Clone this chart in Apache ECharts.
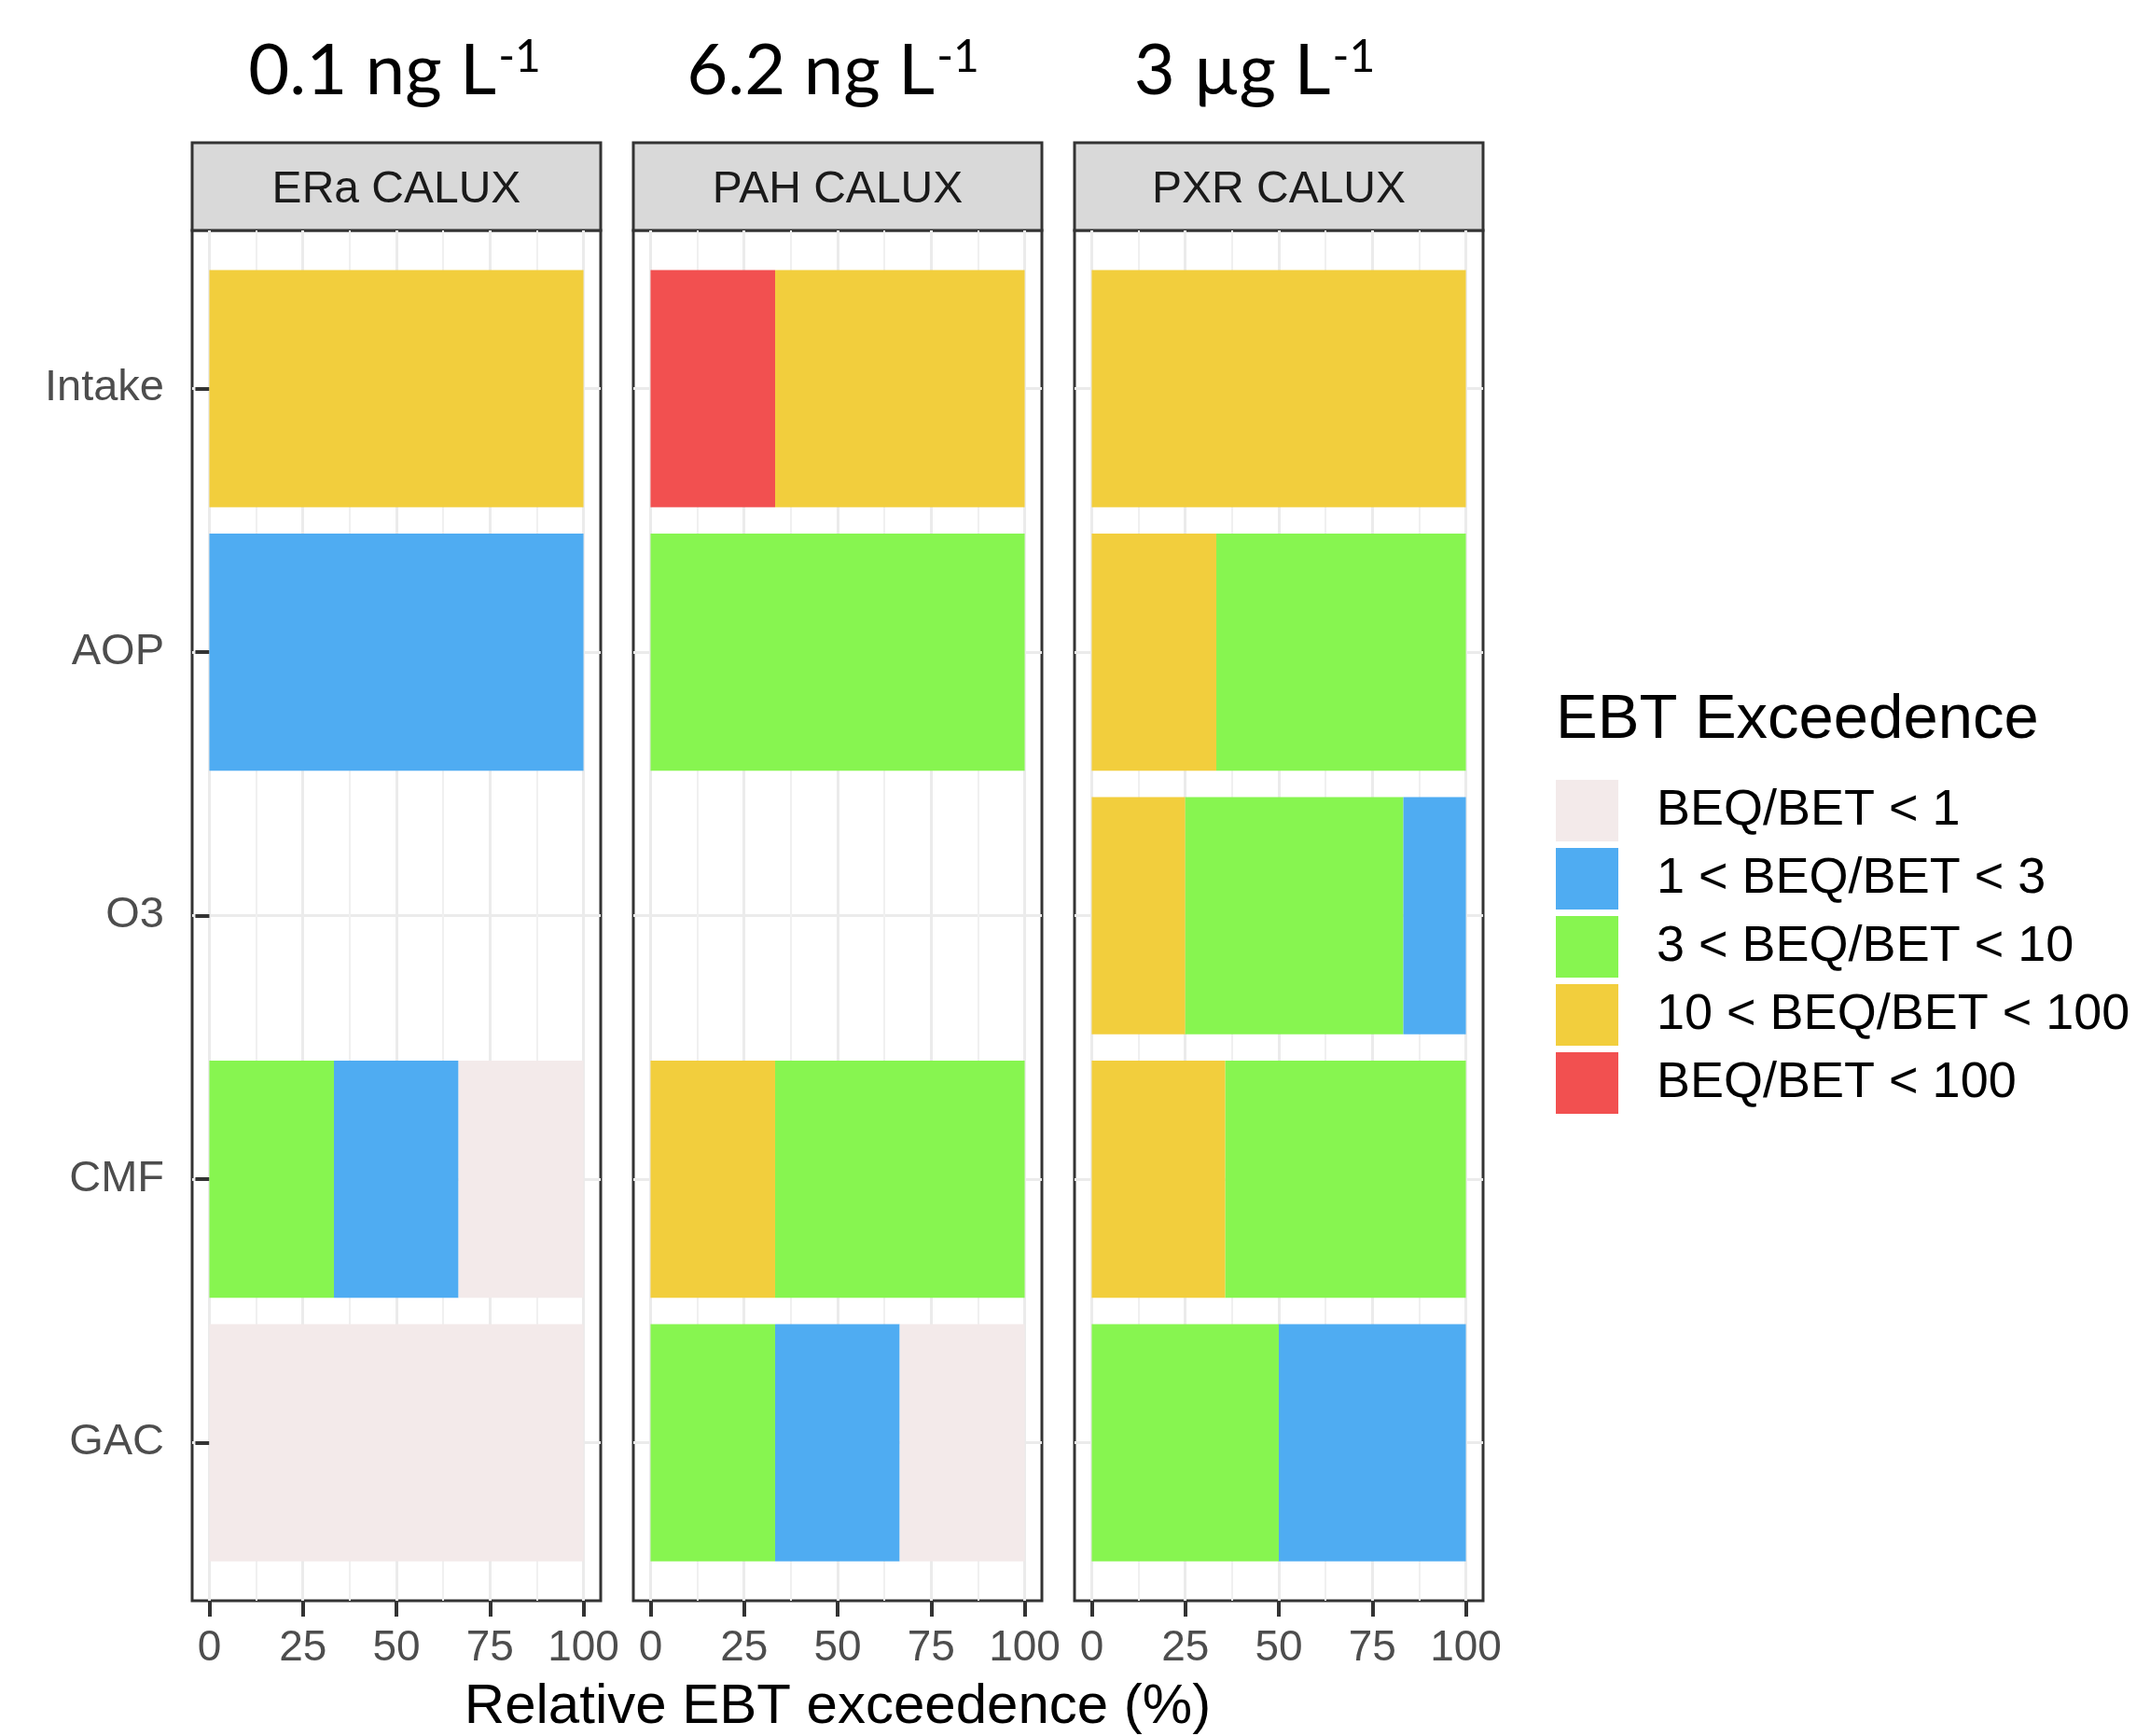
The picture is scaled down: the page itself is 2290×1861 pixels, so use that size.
<!DOCTYPE html>
<html>
<head>
<meta charset="utf-8">
<script src="https://cdn.jsdelivr.net/npm/echarts@6/dist/echarts.min.js"></script>
<style>html,body{margin:0;padding:0;background:#fff;}#chart{width:2290px;height:1861px;}</style>
</head>
<body>
<div id="chart"></div>
<script>
// ---------- data ----------
const categories = ['Intake', 'AOP', 'O3', 'CMF', 'GAC'];
const assays = ['ERa CALUX', 'PAH CALUX', 'PXR CALUX'];
const concentrations = ['0.1 ng L', '6.2 ng L', '3 \u00B5g L'];
const concentrationSup = '-1';
const xTicks = [0, 25, 50, 75, 100];
const xMinorTicks = [12.5, 37.5, 62.5, 87.5];
const yTicks = [1, 2, 3, 4, 5];
const xTitle = 'Relative EBT exceedence (%)';
const legendTitle = 'EBT Exceedence';
// stacking order left -> right
const levels = ['BEQ/BET < 100', '10 < BEQ/BET < 100', '3 < BEQ/BET < 10', '1 < BEQ/BET < 3', 'BEQ/BET < 1'];
const legendOrder = ['BEQ/BET < 1', '1 < BEQ/BET < 3', '3 < BEQ/BET < 10', '10 < BEQ/BET < 100', 'BEQ/BET < 100'];
// shares (%) per assay (rows: ERa, PAH, PXR), per category (Intake, AOP, O3, CMF, GAC)
const shareRed    = [[0, 0, 0, 0, 0], [33.3, 0, 0, 0, 0], [0, 0, 0, 0, 0]];
const shareYellow = [[100, 0, 0, 0, 0], [66.7, 0, 0, 33.3, 0], [100, 33.3, 25, 35.7, 0]];
const shareGreen  = [[0, 0, 0, 33.3, 0], [0, 100, 0, 66.7, 33.3], [0, 66.7, 58.3, 64.3, 50]];
const shareBlue   = [[0, 100, 0, 33.3, 0], [0, 0, 0, 0, 33.3], [0, 0, 16.7, 0, 50]];
const sharePale   = [[0, 0, 0, 33.4, 100], [0, 0, 0, 0, 33.4], [0, 0, 0, 0, 0]];

// ---------- styles ----------
const levelShares = [shareRed, shareYellow, shareGreen, shareBlue, sharePale];
const levelColors = ['#F25050', '#F2CE3D', '#87F550', '#4FACF2', '#F3EAEA'];
const FONT = '"Liberation Sans", Arial, sans-serif';
const panelLeft = [206, 679, 1152];
const panelWidth = 438;
const panelTop = 247, panelHeight = 1469;
const stripTop = 153, stripHeight = 94;
const titleX = [423, 893, 1345];

const grids = [], xAxes = [], yAxes = [], series = [], graphics = [];

for (let p = 0; p < 3; p++) {
  grids.push({ left: panelLeft[p], top: panelTop, width: panelWidth, height: panelHeight,
    show: true, backgroundColor: '#fff', borderColor: '#333333', borderWidth: 3, z: 0 });
}
for (let p = 0; p < 3; p++) {
  grids.push({ left: panelLeft[p], top: stripTop, width: panelWidth, height: stripHeight,
    show: true, backgroundColor: '#D9D9D9', borderColor: '#333333', borderWidth: 3 });
}

for (let p = 0; p < 3; p++) {
  xAxes.push({
    type: 'value', gridIndex: p, min: -4.6, max: 104.6, position: 'bottom',
    axisLine: { show: false },
    axisTick: { show: true, customValues: xTicks, length: 17, lineStyle: { color: '#333333', width: 4 } },
    axisLabel: { show: true, customValues: xTicks, margin: 28, fontSize: 46, color: '#4D4D4D', fontFamily: FONT },
    splitLine: { show: true, lineStyle: { color: '#EBEBEB', width: 3 } }
  });
  xAxes.push({
    type: 'value', gridIndex: p, min: -4.6, max: 104.6, position: 'top',
    axisLine: { show: false },
    axisTick: { show: false, customValues: xMinorTicks },
    axisLabel: { show: false },
    splitLine: { show: true, lineStyle: { color: '#F0F0F0', width: 2 } }
  });
  yAxes.push({
    type: 'value', gridIndex: p, min: 0.4, max: 5.6, inverse: true,
    axisLine: { show: false },
    axisTick: { show: p === 0, customValues: yTicks, length: 15, lineStyle: { color: '#333333', width: 4 } },
    axisLabel: { show: p === 0, customValues: yTicks, margin: 30, fontSize: 47, color: '#4D4D4D', fontFamily: FONT,
      formatter: v => categories[Math.round(v) - 1] },
    splitLine: { show: true, lineStyle: { color: '#EBEBEB', width: 3 } }
  });
}
for (let p = 0; p < 3; p++) {
  xAxes.push({ type: 'value', gridIndex: 3 + p, show: false });
  yAxes.push({ type: 'value', gridIndex: 3 + p, show: false });
}

function renderBar(params, api) {
  const c = api.value(2);
  const s = api.coord([api.value(0), c]);
  const e = api.coord([api.value(1), c]);
  const h = api.size([0, 0.9])[1];
  return { type: 'rect', shape: { x: s[0], y: s[1] - h / 2, width: e[0] - s[0], height: h },
    style: { fill: api.visual('color') } };
}

for (let p = 0; p < 3; p++) {
  const offset = categories.map(() => 0);
  for (let l = 0; l < levels.length; l++) {
    const items = [];
    categories.forEach((cat, c) => {
      const v = levelShares[l][p][c];
      if (v > 0) {
        items.push([offset[c], offset[c] + v, c + 1]);
        offset[c] += v;
      }
    });
    series.push({
      type: 'custom', name: levels[l], xAxisIndex: 2 * p, yAxisIndex: p,
      itemStyle: { color: levelColors[l] },
      encode: { x: [0, 1], y: 2 },
      data: items, renderItem: renderBar, z: 2, silent: true
    });
  }
}

for (let p = 0; p < 3; p++) {
  graphics.push({
    type: 'text', x: titleX[p], y: 76,
    style: {
      text: '{m|' + concentrations[p] + '}{s|' + concentrationSup + '}',
      align: 'center', verticalAlign: 'middle',
      rich: {
        m: { fontSize: 76, fontFamily: 'Lato', fill: '#000' },
        s: { fontSize: 48, fontFamily: 'Lato', fill: '#000', padding: [0, 0, 29, 2] }
      }
    }
  });
  graphics.push({
    type: 'text', x: panelLeft[p] + panelWidth / 2, y: stripTop + stripHeight / 2 + 4, z: 10,
    style: { text: assays[p], align: 'center', verticalAlign: 'middle', fontSize: 48, fontFamily: FONT, fill: '#1A1A1A' }
  });
}
graphics.push({
  type: 'text', x: panelLeft[1] + panelWidth / 2, y: 1830,
  style: { text: xTitle, align: 'center', verticalAlign: 'middle', fontSize: 60, fontFamily: FONT, fill: '#000' }
});
graphics.push({
  type: 'text', x: 1668, y: 773,
  style: { text: legendTitle, align: 'left', verticalAlign: 'middle', fontSize: 67, fontFamily: FONT, fill: '#000' }
});

const chart = echarts.init(document.getElementById('chart'), null, { renderer: 'canvas' });
chart.setOption({
  backgroundColor: '#fff',
  animation: false,
  grid: grids,
  xAxis: xAxes,
  yAxis: yAxes,
  legend: {
    data: legendOrder, orient: 'vertical', left: 1668, top: 836, padding: 0,
    icon: 'rect', itemWidth: 67, itemHeight: 66, itemGap: 7, selectedMode: false,
    textStyle: { fontSize: 54, color: '#000', fontFamily: FONT, padding: [0, 0, 0, 36], lineHeight: 66 }
  },
  graphic: graphics,
  series: series
});
</script>
</body>
</html>
